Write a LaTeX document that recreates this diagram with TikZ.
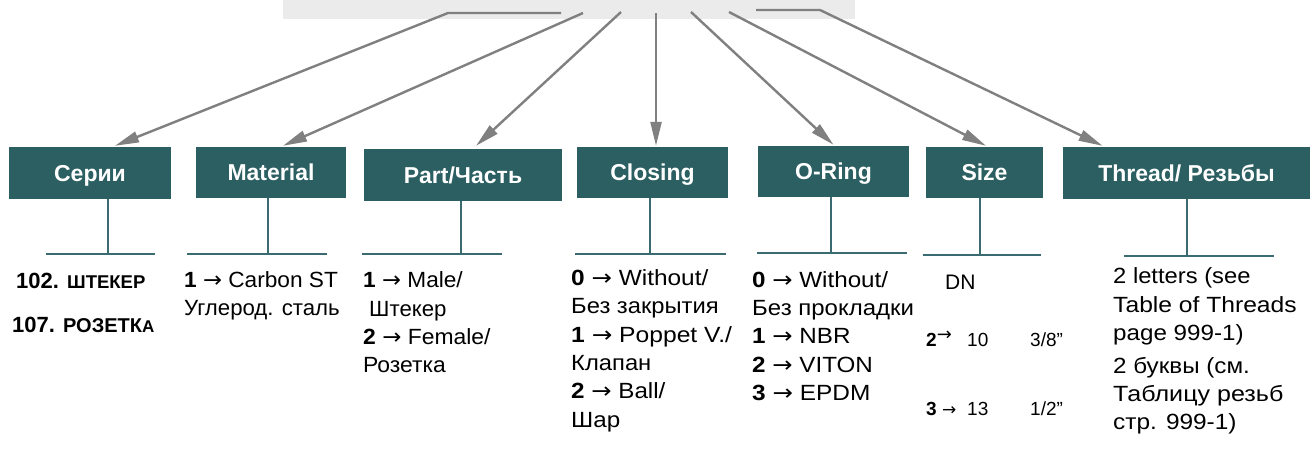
\documentclass[tikz,border=0pt]{standalone}
\usepackage{graphicx}
\usepackage{fontspec}
\setmainfont{Liberation Sans}
\newfontfamily\arrfont{DejaVu Sans}
\newcommand\rar{{\arrfont →}}
\newcommand\sx[2]{\scalebox{#1}[1]{#2}}
\usetikzlibrary{arrows.meta}
\definecolor{boxteal}{HTML}{2C5F62}
\definecolor{lineteal}{HTML}{3A6B70}
\definecolor{arrgray}{HTML}{808080}
\definecolor{topgray}{HTML}{EBEBEB}
\begin{document}
\begin{tikzpicture}[x=1pt,y=-1pt,
  hbox/.style={fill=boxteal, draw=none, inner sep=0pt, text=white,
    font=\bfseries\fontsize{23}{23}\selectfont, text height=16.5pt, text depth=0pt},
  conn/.style={draw=arrgray, line width=2.4pt, -{Triangle[length=24pt,width=11pt]}},
  tl/.style={draw=lineteal, line width=2pt},
  txt/.style={anchor=base west, inner sep=0pt, font=\fontsize{22}{26}\selectfont},
  stxt/.style={anchor=base west, inner sep=0pt, font=\fontsize{19}{22}\selectfont}]
\useasboundingbox (0,0) rectangle (1311,450);
\fill[white] (0,0) rectangle (1311,450);
% top bar
\node[fill=topgray, inner sep=0pt, minimum width=572pt, minimum height=19pt, anchor=north west] (top) at (283,0) {};
% boxes
\node[hbox, minimum width=162pt, minimum height=52pt] (s1) at (90,173) {Серии};
\node[hbox, minimum width=150pt, minimum height=51pt] (s2) at (271,172.5) {Material};
\node[hbox, minimum width=198pt, minimum height=52pt] (s3) at (463,175) {Part/Часть};
\node[hbox, minimum width=151pt, minimum height=51pt] (s4) at (652.5,172.5) {Closing};
\node[hbox, minimum width=151pt, minimum height=51pt] (s5) at (833.5,171.5) {O-Ring};
\node[hbox, minimum width=117pt, minimum height=51pt] (s6) at (984.5,172.5) {Size};
\node[hbox, minimum width=247pt, minimum height=52pt] (s7) at (1186.5,173) {Thread/ Резьбы};
% start points on the top bar
\coordinate (a1h) at (561,13);
\coordinate (a1) at (448,13);
\coordinate (a2) at (583,13);
\coordinate (a3) at (621,12);
\coordinate (a4) at (656,13);
\coordinate (a5) at (691,12);
\coordinate (a6) at (729,12);
\coordinate (a7h) at (756,10);
\coordinate (a7) at (820,10);
% connectors
\draw[conn] (a1h) -- (a1) -- ([xshift=25pt,yshift=1pt]s1.north);
\draw[conn] (a2) -- ([xshift=12pt,yshift=1pt]s2.north);
\draw[conn] (a3) -- ([xshift=13pt,yshift=3pt]s3.north);
\draw[conn] (a4) -- ([xshift=3.5pt,yshift=1pt]s4.north);
\draw[conn] (a5) -- ([yshift=1pt]s5.north);
\draw[conn] (a6) -- ([xshift=1.5pt,yshift=1pt]s6.north);
\draw[conn] (a7h) -- (a7) -- ([xshift=-84pt,yshift=1pt]s7.north);
% brackets below boxes
\draw[tl] ([xshift=18pt]s1.south) -- ([xshift=18pt]s1.south |- 0,254);
\draw[tl] (46,254) -- (155,254);
\draw[tl] ([xshift=-3pt]s2.south) -- ([xshift=-3pt]s2.south |- 0,254);
\draw[tl] (187,254) -- (327,254);
\draw[tl] ([xshift=-2pt]s3.south) -- ([xshift=-2pt]s3.south |- 0,254);
\draw[tl] (362,254) -- (502,254);
\draw[tl] ([xshift=-2.5pt]s4.south) -- ([xshift=-2.5pt]s4.south |- 0,254);
\draw[tl] (575,254) -- (726,254);
\draw[tl] ([xshift=-2.5pt]s5.south) -- ([xshift=-2.5pt]s5.south |- 0,253);
\draw[tl] (757,253) -- (907,253);
\draw[tl] ([xshift=-4.5pt]s6.south) -- ([xshift=-4.5pt]s6.south |- 0,255);
\draw[tl] (923,255) -- (1041,255);
\draw[tl] ([xshift=0.5pt]s7.south) -- ([xshift=0.5pt]s7.south |- 0,256);
\draw[tl] (1124,256) -- (1274,256);
% Серии texts
\node[txt, font=\bfseries\fontsize{22}{26}\selectfont] (t11) at (16,288) {102. {\fontsize{18.5}{20}\selectfont ШТЕКЕР}};
\node[txt, font=\bfseries\fontsize{22}{26}\selectfont] (t12) at (12,332) {107. {\fontsize{20}{20}\selectfont РОЗЕТК{\fontsize{17}{17}\selectfont А}}};
% Material
\node[txt] (t21) at (184,287) {\sx{1.03}{\textbf{1} \rar{} Carbon ST}};
\node[txt] (t22) at (184,315) {\sx{1.01}{Углерод. сталь}};
% Part
\node[txt] (t31) at (363,287) {\sx{1.03}{\textbf{1} \rar{} Male/}};
\node[txt] (t32) at (369,316) {\sx{1.01}{Штекер}};
\node[txt] (t33) at (363,344) {\sx{1.04}{\textbf{2} \rar{} Female/}};
\node[txt] (t34) at (363,372) {\sx{1.04}{Розетка}};
% Closing
\node[txt] (t41) at (571,285) {\sx{1.11}{\textbf{0} \rar{} Without/}};
\node[txt] (t42) at (571,313) {\sx{1.08}{Без закрытия}};
\node[txt] (t43) at (571,342) {\sx{1.12}{\textbf{1} \rar{} Poppet V./}};
\node[txt] (t44) at (571,370) {\sx{1.08}{Клапан}};
\node[txt] (t45) at (571,398) {\sx{1.1}{\textbf{2} \rar{} Ball/}};
\node[txt] (t46) at (571,427) {\sx{1.1}{Шар}};
% O-Ring
\node[txt] (t51) at (752,287) {\sx{1.1}{\textbf{0} \rar{} Without/}};
\node[txt] (t52) at (752,315) {\sx{1.09}{Без прокладки}};
\node[txt] (t53) at (752,343) {\sx{1.1}{\textbf{1} \rar{} NBR}};
\node[txt] (t54) at (752,372) {\sx{1.1}{\textbf{2} \rar{} VITON}};
\node[txt] (t55) at (752,400) {\sx{1.11}{\textbf{3} \rar{} EPDM}};
% Size
\node[txt, font=\fontsize{21}{24}\selectfont] (t60) at (945,289) {DN};
\node[stxt] (t61) at (926,346) {\textbf{2}\raisebox{6pt}{\fontsize{18}{18}\selectfont\rar}};
\node[stxt] (t62) at (967,346) {10};
\node[stxt] (t63) at (1030,346) {3/8”};
\node[stxt] (t64) at (926,415) {\textbf{3} {\fontsize{17}{17}\selectfont\rar}};
\node[stxt] (t65) at (967,415) {13};
\node[stxt] (t66) at (1030,415) {1/2”};
% Thread
\node[txt] (t71) at (1113,283) {\sx{1.08}{2 letters (see}};
\node[txt] (t72) at (1113,312) {\sx{1.12}{Table of Threads}};
\node[txt] (t73) at (1113,340) {\sx{1.1}{page 999-1)}};
\node[txt] (t74) at (1113,373) {\sx{1.1}{2 буквы (см.}};
\node[txt] (t75) at (1113,401) {\sx{1.14}{Таблицу резьб}};
\node[txt] (t76) at (1113,429) {\sx{1.11}{стр. 999-1)}};
\end{tikzpicture}
\end{document}
